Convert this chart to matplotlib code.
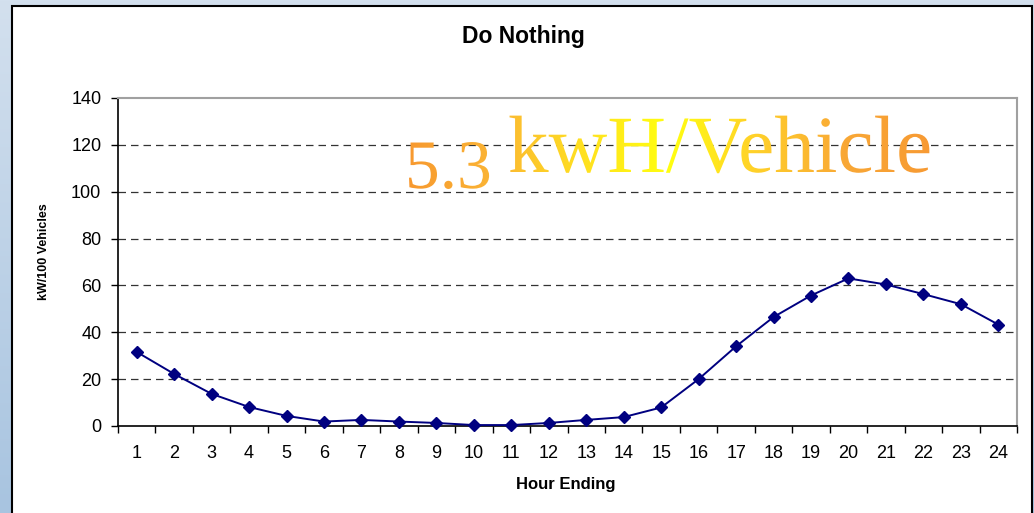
import numpy as np
import matplotlib
matplotlib.use("Agg")
import matplotlib.pyplot as plt
from matplotlib.patches import Rectangle
from matplotlib.patheffects import AbstractPathEffect
from matplotlib.transforms import TransformedPath
from matplotlib.colors import LinearSegmentedColormap

hours = list(range(1, 25))
hour_labels = [str(h) for h in hours]
kw_per_100 = [31.6, 22.2, 13.7, 8.1, 4.3, 1.9, 2.6, 1.9, 1.3, 0.4, 0.4, 1.3,
              2.6, 3.8, 7.9, 20.0, 34.0, 46.5, 55.7, 63.0, 60.4, 56.3, 52.0, 43.3]
y_ticks = [0, 20, 40, 60, 80, 100, 120, 140]
title = "Do Nothing"
x_label = "Hour Ending"
y_label = "kW/100 Vehicles"
wordart_num = "5.3"
wordart_unit = "kwH/Vehicle"

W, H = 1034, 513
fig = plt.figure(figsize=(W / 100, H / 100), dpi=100)
fig.patch.set_facecolor("#C4D6EA")
plt.rcParams['font.family'] = ['Liberation Sans', 'DejaVu Sans']

def fx(x):
    return x / W

def fy(y):
    return 1 - y / H

# background gradient
bg = fig.add_axes([0, 0, 1, 1], zorder=-10)
grad = np.linspace(0, 1, 256)[:, None]
bg.imshow(grad, cmap=LinearSegmentedColormap.from_list("bg", ["#D3E0EE", "#A8C4E0"]),
          aspect="auto", extent=[0, 1, 0, 1])
bg.set_axis_off()

# white chart frame
fig.patches.append(Rectangle((fx(12), fy(530)), fx(1032) - fx(12), fy(6) - fy(530),
                             transform=fig.transFigure, facecolor="white",
                             edgecolor="black", linewidth=1.5, zorder=-5))

ax = fig.add_axes([fx(118), fy(426), fx(1017) - fx(118), fy(98) - fy(426)])
ax.set_facecolor("none")
ax.plot(hours, kw_per_100, color="#000080", linewidth=1.4, marker="D",
        markersize=6.5, markerfacecolor="#000080", markeredgecolor="#000080",
        clip_on=False, zorder=5)

ax.set_xlim(0.5, 24.5)
ax.set_ylim(0, 140)
ax.set_yticks(y_ticks)
ax.set_yticklabels([str(v) for v in y_ticks])
ax.set_xticks(hours)
ax.set_xticklabels(hour_labels)
ax.set_xticks(np.arange(0.5, 25, 1.0), minor=True)
ax.tick_params(axis="x", which="major", length=0, pad=14, labelsize=13)
ax.tick_params(axis="x", which="minor", length=5, width=1, direction="out")
ax.tick_params(axis="y", which="major", length=5, width=1, direction="out",
               pad=7, labelsize=13)
for v in y_ticks[1:-1]:
    ax.axhline(v, color="#333333", linewidth=0.9, linestyle=(0, (6, 4)), zorder=1)
ax.spines["top"].set_color("#A0A0A0")
ax.spines["right"].set_color("#A0A0A0")
ax.spines["top"].set_linewidth(1.5)
ax.spines["right"].set_linewidth(1.5)
ax.spines["left"].set_linewidth(1.2)
ax.spines["bottom"].set_linewidth(1.2)

fig.text(fx(523), fy(37), title, ha="center", va="center", fontsize=16.5,
         fontweight="bold")
fig.text(fx(566), fy(485), x_label, ha="center", va="center", fontsize=12,
         fontweight="bold")
fig.text(fx(44), fy(252), y_label, ha="center", va="center", fontsize=9,
         fontweight="bold", rotation=90)


class GradientFill(AbstractPathEffect):
    def __init__(self, colors, x_range):
        super().__init__()
        self.cmap = LinearSegmentedColormap.from_list("wa", colors)
        self.x_range = x_range

    def draw_path(self, renderer, gc, tpath, affine, rgbFace=None):
        path = affine.transform_path(tpath)
        ext = path.get_extents()
        x0 = int(np.floor(ext.x0)) - 1
        y0 = int(np.floor(ext.y0)) - 1
        w = int(np.ceil(ext.x1)) + 1 - x0
        h = int(np.ceil(ext.y1)) + 1 - y0
        xs = np.arange(w) + x0
        t = np.clip((xs - self.x_range[0]) / (self.x_range[1] - self.x_range[0]), 0, 1)
        rgba = (self.cmap(t)[None, :, :] * 255).astype(np.uint8)
        rgba = np.ascontiguousarray(np.repeat(rgba, h, axis=0))
        gc0 = renderer.new_gc()
        gc0.copy_properties(gc)
        gc0.set_clip_path(TransformedPath(tpath, affine))
        renderer.draw_image(gc0, x0, y0, rgba)
        gc0.restore()


wa_colors = ["#F7982F", "#FBB534", "#FFE020", "#FFFF10", "#FFD02A", "#F9A836", "#F79A33"]
pe = [GradientFill(wa_colors, (405, 932))]
fig.text(fx(405), fy(188), wordart_num, ha="left", va="baseline", fontsize=50,
         family="Liberation Serif", color="#F9A836", path_effects=pe)
fig.text(fx(508), fy(172), wordart_unit, ha="left", va="baseline", fontsize=58.5,
         family="Liberation Serif", color="#FFC830", path_effects=pe)

fig.savefig("out.png", dpi=100, facecolor=fig.get_facecolor())
